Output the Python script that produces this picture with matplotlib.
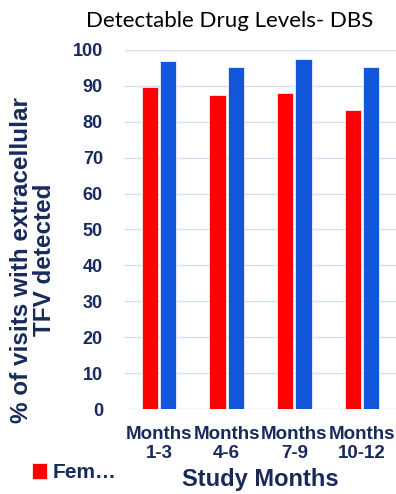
import numpy as np
import matplotlib
matplotlib.use("Agg")
import matplotlib.pyplot as plt

periods = ["Months\n1-3", "Months\n4-6", "Months\n7-9", "Months\n10-12"]
female = [89.7, 87.5, 87.9, 83.3]
other = [96.9, 95.3, 97.6, 95.3]
yticks = [0, 10, 20, 30, 40, 50, 60, 70, 80, 90, 100]

NAVY = "#182a5c"
RED = "#ff0000"
BLUE = "#1257d9"

fig = plt.figure(figsize=(3.96, 4.94), dpi=100)
ax = fig.add_axes([0.316, 0.172, 0.684, 0.727])

x = np.arange(len(periods))
w = 0.24
bars_f = ax.bar(x - 0.135, female, w, color=RED, edgecolor="white", linewidth=0.5, label="Fem…", zorder=3)
ax.bar(x + 0.135, other, w, color=BLUE, edgecolor="white", linewidth=0.5, zorder=3)

ax.set_xlim(-0.5, len(periods) - 0.5)
ax.set_ylim(0, 100)
ax.set_yticks(yticks)
ax.yaxis.grid(True, color="#d6e0f5", linewidth=1)
ax.set_axisbelow(True)
for s in ax.spines.values():
    s.set_visible(False)
ax.tick_params(axis="y", length=0, pad=16)
ax.tick_params(axis="x", length=0, pad=12)

ax.set_xticks(x)
ax.set_xticklabels(periods, fontsize=13.5, fontweight="bold", color=NAVY,
                   family="Liberation Sans", linespacing=1.2)
for lbl in ax.get_yticklabels():
    lbl.set_fontsize(13)
    lbl.set_fontweight("bold")
    lbl.set_color(NAVY)
    lbl.set_family("Liberation Sans")

ax.set_xlabel("Study Months", fontsize=17, fontweight="bold", color=NAVY,
              family="Liberation Sans", labelpad=4)
fig.text(0.083, 0.474, "% of visits with extracellular\nTFV detected", rotation=90,
         ha="center", va="center", fontsize=17.5, fontweight="bold", color=NAVY,
         family="Liberation Sans", linespacing=1.0)

fig.text(0.58, 0.958, "Detectable Drug Levels- DBS", ha="center", va="center",
         fontsize=16, family="Lato", color="black")

fig.legend(handles=[bars_f], loc="center left", bbox_to_anchor=(0.08, 0.043),
           frameon=False, handlelength=0.75, handleheight=0.75, handletextpad=0.25,
           prop={"family": "Liberation Sans", "weight": "bold", "size": 15},
           labelcolor=NAVY, borderpad=0, borderaxespad=0)

fig.savefig("out.png", dpi=100)
